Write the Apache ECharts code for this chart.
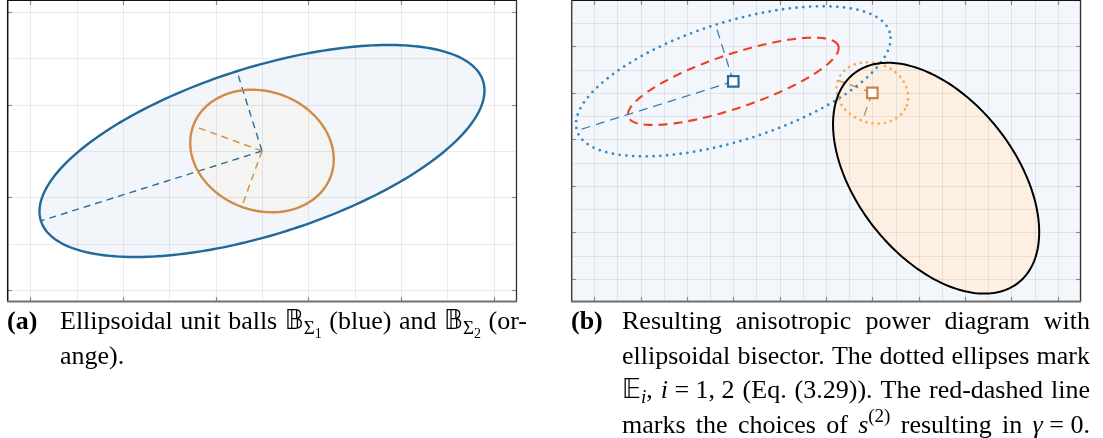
<!DOCTYPE html>
<html><head><meta charset="utf-8">
<script src="https://cdn.jsdelivr.net/npm/echarts@6/dist/echarts.min.js"></script>
<style>html,body{margin:0;padding:0;background:#fff}#c{width:1103px;height:438px}</style>
</head><body><div id="c"></div>
<script>
// ================= DATA =================
// Panel (a): axis extents, grid lines and tick marks (data units)
const aXRange = [-0.5, 10.5];
const aYRange = [-0.25, 6.25];
const aGridX = [0, 1, 2, 3, 4, 5, 6, 7, 8, 9, 10];
const aGridY = [0, 1, 2, 3, 4, 5, 6];
const aTickX = [0, 2, 4, 6, 8, 10];
const aTickY = [0, 2, 4, 6];
// Panel (a): unit balls  [centre], [semi-major, semi-minor], rotation (deg)
const ball1Center = [5, 3];
const ball1Axes = [5.0, 1.8];
const ball1Angle = 17.5;
const ball1AxisDirs = [180, 90];     // which semi-axes are drawn dashed
const ball2Center = [5, 3];
const ball2Axes = [1.58, 1.28];
const ball2Angle = -20;
const ball2AxisDirs = [180, -90];

// Panel (b)
const bXRange = [-1, 21];
const bYRange = [-1, 12];
const bGridX = [-1, 0, 1, 2, 3, 4, 5, 6, 7, 8, 9, 10, 11, 12, 13, 14, 15, 16, 17, 18, 19, 20, 21];
const bGridY = [-1, 0, 1, 2, 3, 4, 5, 6, 7, 8, 9, 10, 11, 12];
const bTickX = [0, 2, 4, 6, 8, 10, 12, 14, 16, 18, 20];
const bTickY = [0, 2, 4, 6, 8, 10, 12];
const site1 = [6, 8.5];
const site2 = [12, 8];
const e1Axes = [7.07, 2.55];
const e1Angle = 17.5;
const e1AxisDirs = [180, 90];
const e2Axes = [1.58, 1.28];
const e2Angle = -20;
const e2AxisDirs = [180, -90];
const gammaZeroCenter = [6, 8.5];
const gammaZeroAxes = [4.78, 1.16];
const gammaZeroAngle = 18.6;
const bisectorCenter = [14.75, 4.33];
const bisectorAxes = [5.73, 3.41];
const bisectorAngle = -51.7;

// ================= HELPERS =================
function ellipsePoints(api, cx, cy, a, b, thDeg) {
  const th = thDeg * Math.PI / 180, pts = [], N = 240;
  for (let k = 0; k <= N; k++) {
    const t = k / N * 2 * Math.PI;
    const x = cx + a * Math.cos(t) * Math.cos(th) - b * Math.sin(t) * Math.sin(th);
    const y = cy + a * Math.cos(t) * Math.sin(th) + b * Math.sin(t) * Math.cos(th);
    pts.push(api.coord([x, y]));
  }
  return pts;
}
function ellipseSeries(gi, center, axes, angle, style, z, fill) {
  return {
    type: 'custom', xAxisIndex: gi, yAxisIndex: gi, z: z, silent: true, clip: true,
    data: [[center[0], center[1], axes[0], axes[1], angle]],
    renderItem: (p, api) => {
      const pts = ellipsePoints(api, api.value(0), api.value(1), api.value(2), api.value(3), api.value(4));
      return fill ? { type: 'polygon', shape: { points: pts }, style: style }
                  : { type: 'polyline', shape: { points: pts }, style: Object.assign({ fill: null }, style) };
    }
  };
}
function semiAxesSeries(gi, center, axes, angle, dirs, style, z) {
  return {
    type: 'custom', xAxisIndex: gi, yAxisIndex: gi, z: z, silent: true, clip: true,
    data: [[center[0], center[1], axes[0], axes[1], angle]],
    renderItem: (p, api) => {
      const cx = api.value(0), cy = api.value(1), th = api.value(4);
      const lens = [api.value(2), api.value(3)];
      const c0 = api.coord([cx, cy]);
      return {
        type: 'group', children: dirs.map((d, i) => {
          const ang = (th + d) * Math.PI / 180;
          const e = api.coord([cx + lens[i] * Math.cos(ang), cy + lens[i] * Math.sin(ang)]);
          return { type: 'line', shape: { x1: c0[0], y1: c0[1], x2: e[0], y2: e[1] }, style: Object.assign({ fill: null }, style) };
        })
      };
    }
  };
}
function gridSeries(gi, xr, yr, gx, gy, color) {
  return {
    type: 'custom', xAxisIndex: gi, yAxisIndex: gi, z: 3, silent: true,
    data: [[xr[0], yr[0]]],
    renderItem: (p, api) => {
      const ch = [];
      gx.forEach(v => {
        const a = api.coord([v, yr[0]]), b = api.coord([v, yr[1]]);
        const X = Math.round(a[0]) + 0.5;
        ch.push({ type: 'line', shape: { x1: X, y1: a[1], x2: X, y2: b[1] }, style: { stroke: color, lineWidth: 1 } });
      });
      gy.forEach(v => {
        const a = api.coord([xr[0], v]), b = api.coord([xr[1], v]);
        const Y = Math.round(a[1]) + 0.5;
        ch.push({ type: 'line', shape: { x1: a[0], y1: Y, x2: b[0], y2: Y }, style: { stroke: color, lineWidth: 1 } });
      });
      return { type: 'group', children: ch };
    }
  };
}
function frameSeries(gi, xr, yr, tx, ty, leftCol) {
  return {
    type: 'custom', xAxisIndex: gi, yAxisIndex: gi, z: 10, silent: true,
    data: [[xr[0], yr[0]]],
    renderItem: (p, api) => {
      const ch = [];
      const tl = api.coord([xr[0], yr[1]]), br = api.coord([xr[1], yr[0]]);
      const L = tl[0], T = tl[1], R = br[0], B = br[1];
      const tick = { stroke: '#8c8c8c', lineWidth: 1.2 };
      tx.forEach(v => {
        const X = Math.round(api.coord([v, yr[0]])[0]) + 0.5;
        ch.push({ type: 'line', shape: { x1: X, y1: B, x2: X, y2: B - 5 }, style: tick });
        ch.push({ type: 'line', shape: { x1: X, y1: T, x2: X, y2: T + 5 }, style: tick });
      });
      ty.forEach(v => {
        const Y = Math.round(api.coord([xr[0], v])[1]) + 0.5;
        ch.push({ type: 'line', shape: { x1: L, y1: Y, x2: L + 5, y2: Y }, style: tick });
        ch.push({ type: 'line', shape: { x1: R, y1: Y, x2: R - 5, y2: Y }, style: tick });
      });
      ch.push({ type: 'line', shape: { x1: L, y1: T + 0.5, x2: R, y2: T + 0.5 }, style: { stroke: '#111', lineWidth: 1.2 } });
      ch.push({ type: 'line', shape: { x1: R - 0.5, y1: T, x2: R - 0.5, y2: B }, style: { stroke: '#333', lineWidth: 1.3 } });
      ch.push({ type: 'line', shape: { x1: L + 0.7, y1: T, x2: L + 0.7, y2: B }, style: { stroke: leftCol, lineWidth: 1.5 } });
      ch.push({ type: 'line', shape: { x1: L, y1: B - 0.5, x2: R, y2: B - 0.5 }, style: { stroke: '#707070', lineWidth: 2 } });
      return { type: 'group', children: ch };
    }
  };
}
function rectSeries(gi, xr, yr, color, z) {
  return {
    type: 'custom', xAxisIndex: gi, yAxisIndex: gi, z: z, silent: true,
    data: [[xr[0], yr[0], xr[1], yr[1]]],
    renderItem: (p, api) => {
      const a = api.coord([api.value(0), api.value(3)]), b = api.coord([api.value(2), api.value(1)]);
      return { type: 'rect', shape: { x: a[0], y: a[1], width: b[0] - a[0], height: b[1] - a[1] }, style: { fill: color } };
    }
  };
}

// ================= CAPTIONS =================
const mctx = document.createElement('canvas').getContext('2d');
const SERIF = '"Liberation Serif", "Times New Roman", serif';
const DS = '"DejaVu Sans", "DejaVu Serif", "Noto Sans", sans-serif';
const FS = 26, FSUB = 19, FSS = 14;
function fontStr(r) { return (r.it ? 'italic ' : '') + (r.bold ? 'bold ' : '') + (r.size || FS) + 'px ' + (r.fam || SERIF); }
function baseOff(font) {
  mctx.font = font;
  mctx.textBaseline = 'alphabetic'; const m1 = mctx.measureText('Hxg');
  mctx.textBaseline = 'middle'; const m2 = mctx.measureText('Hxg');
  mctx.textBaseline = 'alphabetic';
  return m1.actualBoundingBoxAscent - m2.actualBoundingBoxAscent;
}
function layLine(runs, x0, baseline, right, out) {
  const toks = [];
  runs.forEach(r => r.t.split(/( )/).forEach(s => { if (s !== '') toks.push(Object.assign({}, r, { t: s, sp: s === ' ' })); }));
  toks.forEach(t => { t.font = fontStr(t); mctx.font = t.font; t.w = mctx.measureText(t.t).width; });
  const nat = toks.reduce((s, t) => s + t.w, 0);
  const nsp = toks.filter(t => t.sp && !t.fixed).length;
  const extra = (right != null && nsp > 0) ? (right - x0 - nat) / nsp : 0;
  let x = x0;
  toks.forEach(t => {
    if (t.sp) { x += t.w + (t.fixed ? 0 : extra); return; }
    const off = baseOff(t.font);
    out.push({ type: 'text', x: x, y: baseline + (t.dy || 0) - off, silent: true,
      style: { text: t.t, font: t.font, fill: '#000', textAlign: 'left', align: 'left', textVerticalAlign: 'middle', verticalAlign: 'middle' } });
    x += t.w;
  });
}
const capA1 = [{ t: 'Ellipsoidal unit balls ' }, { t: '\u{1D539}', fam: DS }, { t: '\u03A3', size: FSUB, dy: 5 }, { t: '1', size: FSS, dy: 9 },
  { t: ' (blue) and ' }, { t: '\u{1D539}', fam: DS }, { t: '\u03A3', size: FSUB, dy: 5 }, { t: '2', size: FSS, dy: 9 }, { t: ' (or-' }];
const capA2 = [{ t: 'ange).' }];
const capB1 = [{ t: 'Resulting anisotropic power diagram with' }];
const capB2 = [{ t: 'ellipsoidal bisector. The dotted ellipses mark' }];
const capB3 = [{ t: '\u{1D53C}', fam: DS }, { t: 'i', it: true, size: FSUB, dy: 5 }, { t: ', ' }, { t: 'i', it: true },
  { t: ' = 1, 2', fixed: true }, { t: ' (Eq. (3.29)). The red-dashed line' }];
const capB4 = [{ t: 'marks the choices of ' }, { t: 's', it: true }, { t: '(2)', size: FSUB, dy: -11 },
  { t: ' resulting in ' }, { t: '\u03B3', it: true }, { t: ' = 0.', fixed: true }];

const texts = [];
const baseY = [329, 363.5, 398, 432.5];
layLine([{ t: '(a)', bold: true }], 7, baseY[0], null, texts);
layLine(capA1, 60, baseY[0], 527, texts);
layLine(capA2, 60, baseY[1], null, texts);
layLine([{ t: '(b)', bold: true }], 571, baseY[0], null, texts);
layLine(capB1, 622, baseY[0], 1090, texts);
layLine(capB2, 622, baseY[1], 1090, texts);
layLine(capB3, 622, baseY[2], 1090, texts);
layLine(capB4, 622, baseY[3], 1090, texts);

// ================= CHART =================
const chart = echarts.init(document.getElementById('c'), null, { renderer: 'canvas', width: 1103, height: 438 });
const series = [
  // panel (a)
  ellipseSeries(0, ball1Center, ball1Axes, ball1Angle, { fill: '#f2f6fa' }, 1, true),
  ellipseSeries(0, ball2Center, ball2Axes, ball2Angle, { fill: '#f4f4f2' }, 2, true),
  gridSeries(0, aXRange, aYRange, aGridX, aGridY, 'rgba(0,0,0,0.075)'),
  semiAxesSeries(0, ball1Center, ball1Axes, ball1Angle, ball1AxisDirs, { stroke: '#2a6c9c', lineWidth: 1.4, lineDash: [7, 5] }, 4),
  semiAxesSeries(0, ball2Center, ball2Axes, ball2Angle, ball2AxisDirs, { stroke: '#d08b47', lineWidth: 1.4, lineDash: [7, 5] }, 4),
  ellipseSeries(0, ball1Center, ball1Axes, ball1Angle, { stroke: '#20699a', lineWidth: 2.4 }, 5, false),
  ellipseSeries(0, ball2Center, ball2Axes, ball2Angle, { stroke: '#d08b47', lineWidth: 2.4 }, 5, false),
  frameSeries(0, aXRange, aYRange, aTickX, aTickY, '#111'),
  // panel (b)
  rectSeries(1, bXRange, bYRange, '#f3f7fb', 0),
  ellipseSeries(1, bisectorCenter, bisectorAxes, bisectorAngle, { fill: '#fdf0e3' }, 1, true),
  gridSeries(1, bXRange, bYRange, bGridX, bGridY, 'rgba(0,0,0,0.075)'),
  semiAxesSeries(1, site1, e1Axes, e1Angle, e1AxisDirs, { stroke: '#3a7fb0', lineWidth: 1.3, lineDash: [9, 6] }, 4),
  semiAxesSeries(1, site2, e2Axes, e2Angle, e2AxisDirs, { stroke: '#c8874c', lineWidth: 1.3, lineDash: [9, 6] }, 4),
  ellipseSeries(1, site1, e1Axes, e1Angle, { stroke: '#3a8ac6', lineWidth: 2.8, lineDash: [0, 6.8], lineCap: 'round' }, 5, false),
  ellipseSeries(1, site2, e2Axes, e2Angle, { stroke: '#f7ab63', lineWidth: 2.8, lineDash: [0, 6.2], lineCap: 'round' }, 5, false),
  ellipseSeries(1, gammaZeroCenter, gammaZeroAxes, gammaZeroAngle, { stroke: '#ec4124', lineWidth: 2.1, lineDash: [9, 6] }, 5, false),
  ellipseSeries(1, bisectorCenter, bisectorAxes, bisectorAngle, { stroke: '#000', lineWidth: 2 }, 6, false),
  {
    type: 'scatter', xAxisIndex: 1, yAxisIndex: 1, z: 8, silent: true, symbol: 'rect', symbolSize: 10.5,
    itemStyle: { color: '#fff', borderWidth: 2.2, opacity: 1 },
    data: [{ value: site1, itemStyle: { borderColor: '#2a6c9c' } }, { value: site2, itemStyle: { borderColor: '#c8874c' } }]
  },
  frameSeries(1, bXRange, bYRange, bTickX, bTickY, '#444')
];
chart.setOption({
  animation: false,
  backgroundColor: '#fff',
  grid: [
    { left: 7, top: 0, width: 510, height: 302, show: false },
    { left: 571, top: 0, width: 510, height: 302, show: false }
  ],
  xAxis: [
    { type: 'value', gridIndex: 0, min: aXRange[0], max: aXRange[1], show: false },
    { type: 'value', gridIndex: 1, min: bXRange[0], max: bXRange[1], show: false }
  ],
  yAxis: [
    { type: 'value', gridIndex: 0, min: aYRange[0], max: aYRange[1], show: false },
    { type: 'value', gridIndex: 1, min: bYRange[0], max: bYRange[1], show: false }
  ],
  series: series,
  graphic: { elements: texts }
});
</script>
</body></html>
